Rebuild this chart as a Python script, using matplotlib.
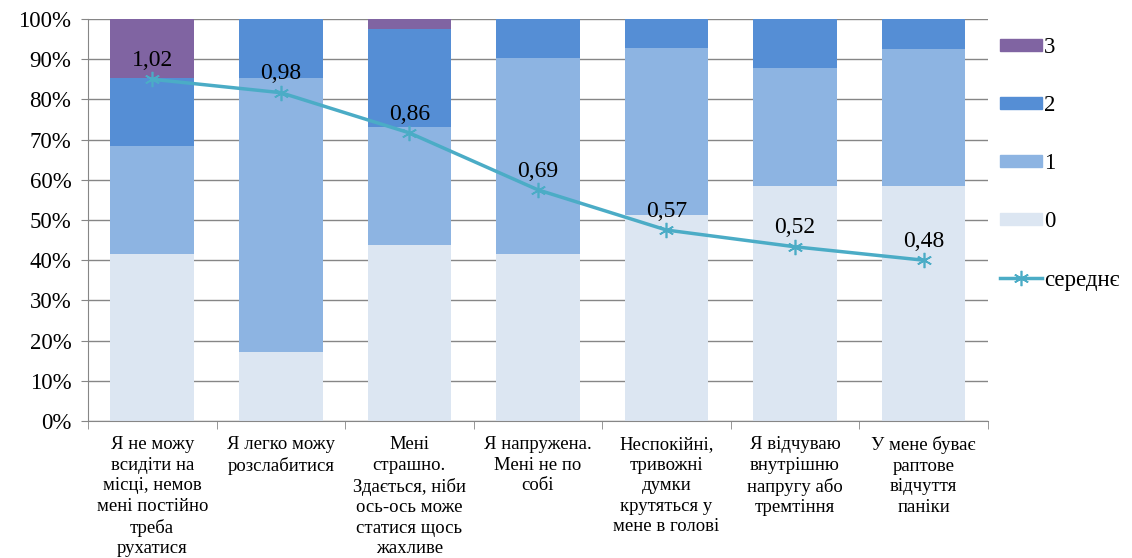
import numpy as np
import matplotlib.pyplot as plt
from matplotlib.patches import Patch
from matplotlib.lines import Line2D

plt.rcParams['font.family'] = ['Liberation Serif', 'DejaVu Serif']

# Дані
categories = [
    "Я не можу\nвсидіти на\nмісці, немов\nмені постійно\nтреба\nрухатися",
    "Я легко можу\nрозслабитися",
    "Мені\nстрашно.\nЗдається, ніби\nось-ось може\nстатися щось\nжахливе",
    "Я напружена.\nМені не по\nсобі",
    "Неспокійні,\nтривожні\nдумки\nкрутяться у\nмене в голові",
    "Я відчуваю\nвнутрішню\nнапругу або\nтремтіння",
    "У мене буває\nраптове\nвідчуття\nпаніки",
]
share_0 = [41.5, 17.1, 43.9, 41.5, 51.2, 58.5, 58.5]
share_1 = [26.8, 68.3, 29.3, 48.8, 41.5, 29.3, 34.1]
share_2 = [17.1, 14.6, 24.4, 9.8, 7.3, 12.2, 7.3]
share_3 = [14.6, 0.0, 2.4, 0.0, 0.0, 0.0, 0.0]
mean_vals = [1.02, 0.98, 0.86, 0.69, 0.57, 0.52, 0.48]

colors = ["#DCE6F2", "#8DB4E2", "#558ED5", "#8064A2"]
line_color = "#4BACC6"
grid_color = "#868686"

fig = plt.figure(figsize=(11.32, 5.58), dpi=100)
ax = fig.add_axes([0.0777, 0.2455, 0.795, 0.7205])

x = np.arange(len(categories))
bottom = np.zeros(len(categories))
for vals, c in zip([share_0, share_1, share_2, share_3], colors):
    ax.bar(x, vals, bottom=bottom, width=0.65, color=c, zorder=2)
    bottom += np.array(vals)

ax.set_xlim(-0.5, len(categories) - 0.5)
ax.set_ylim(0, 100)
ax.set_yticks(np.arange(0, 101, 10))
ax.set_yticklabels([f"{v}%" for v in range(0, 101, 10)], fontsize=16.5)
ax.yaxis.grid(True, color=grid_color, linewidth=1, zorder=0)
ax.set_axisbelow(True)

ax.set_xticks(x)
ax.set_xticklabels(categories, fontsize=13.5, linespacing=1.27)
ax.tick_params(axis='x', length=0, pad=11)
ax.set_xticks(np.arange(-0.5, len(categories), 1), minor=True)
ax.tick_params(axis='x', which='minor', length=6, color=grid_color)
ax.tick_params(axis='y', length=5, color=grid_color, pad=7)

for side in ['top', 'right']:
    ax.spines[side].set_visible(False)
for side in ['left', 'bottom']:
    ax.spines[side].set_color(grid_color)

# Середнє на допоміжній осі
ax2 = ax.twinx()
ax2.set_ylim(0, 1.2)
ax2.axis('off')
ax2.plot(x, mean_vals, color=line_color, linewidth=2.5, marker=(6, 2, 0),
         markersize=11, markeredgewidth=1.2, zorder=5)
for xi, v in zip(x, mean_vals):
    ax2.annotate(f"{v:.2f}".replace('.', ','), (xi, v), xytext=(0, 6),
                 textcoords='offset points', ha='center', va='bottom', fontsize=17)

handles = [Patch(color=colors[3]), Patch(color=colors[2]),
           Patch(color=colors[1]), Patch(color=colors[0]),
           Line2D([0], [0], color=line_color, linewidth=2.5, marker=(6, 2, 0),
                  markersize=11, markeredgewidth=1.2)]
labels = ["3", "2", "1", "0", "середнє"]
fig.legend(handles, labels, loc='upper left', bbox_to_anchor=(0.875, 0.95),
           frameon=False, fontsize=16.5, handlelength=1.85, handleheight=0.45,
           handletextpad=0.1, labelspacing=1.62, borderaxespad=0)

fig.savefig("out.png", dpi=100)
